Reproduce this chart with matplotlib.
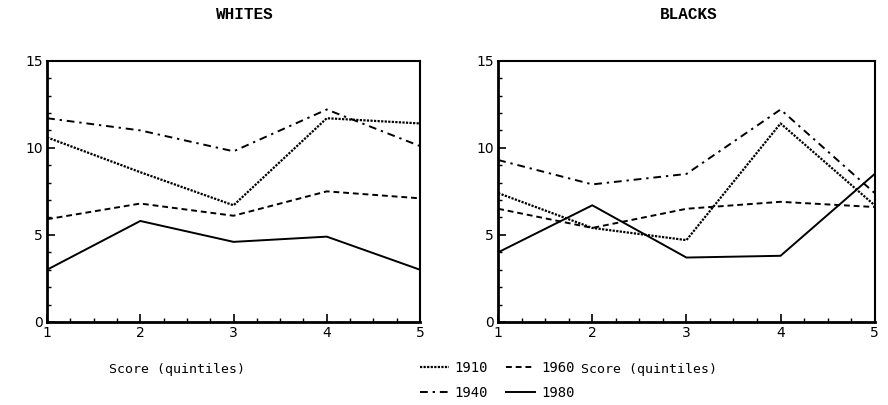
import numpy as np
import matplotlib.pyplot as plt
from matplotlib.ticker import MultipleLocator

quintiles = [1, 2, 3, 4, 5]
years = ["1910", "1940", "1960", "1980"]

whites_1910 = [10.6, 8.6, 6.7, 11.7, 11.4]
whites_1940 = [11.7, 11.0, 9.8, 12.2, 10.1]
whites_1960 = [5.9, 6.8, 6.1, 7.5, 7.1]
whites_1980 = [3.0, 5.8, 4.6, 4.9, 3.0]

blacks_1910 = [7.4, 5.4, 4.7, 11.4, 6.7]
blacks_1940 = [9.3, 7.9, 8.5, 12.2, 7.4]
blacks_1960 = [6.5, 5.4, 6.5, 6.9, 6.6]
blacks_1980 = [4.0, 6.7, 3.7, 3.8, 8.5]

styles = {
    "1910": dict(linestyle=(0, (1, 0.6)), linewidth=1.6),
    "1940": dict(linestyle=(0, (4, 2.5, 1.2, 2.5)), linewidth=1.4),
    "1960": dict(linestyle=(0, (3, 2)), linewidth=1.4),
    "1980": dict(linestyle="-", linewidth=1.4),
}

fig = plt.figure(figsize=(8.88, 4.05), dpi=100)
ax_w = fig.add_axes([0.053, 0.205, 0.420, 0.645])
ax_b = fig.add_axes([0.561, 0.205, 0.424, 0.645])

panels = [
    (ax_w, [whites_1910, whites_1940, whites_1960, whites_1980]),
    (ax_b, [blacks_1910, blacks_1940, blacks_1960, blacks_1980]),
]

handles = []
for ax, series in panels:
    handles = []
    for yr, vals in zip(years, series):
        h, = ax.plot(quintiles, vals, color="black", label=yr, **styles[yr])
        handles.append(h)
    ax.set_xlim(1, 5)
    ax.set_ylim(0, 15)
    ax.set_xticks(quintiles)
    ax.set_yticks([0, 5, 10, 15])
    ax.xaxis.set_minor_locator(MultipleLocator(0.25))
    ax.yaxis.set_minor_locator(MultipleLocator(1))
    ax.tick_params(which="both", direction="in", color="black",
                   labelsize=10, pad=3)
    ax.tick_params(which="major", length=6, width=1.2)
    ax.tick_params(which="minor", length=3, width=1)
    for lab in ax.get_xticklabels() + ax.get_yticklabels():
        lab.set_family("DejaVu Sans")
    for side in ["left", "bottom"]:
        ax.spines[side].set_linewidth(2)
    for side in ["top", "right"]:
        ax.spines[side].set_linewidth(1.5)

fig.text(0.276, 0.965, "WHITES", ha="center", va="center",
         family="Liberation Mono", fontsize=11.5, fontweight="bold")
fig.text(0.776, 0.965, "BLACKS", ha="center", va="center",
         family="Liberation Mono", fontsize=11.5, fontweight="bold")

fig.text(0.199, 0.087, "Score (quintiles)", ha="center", va="center",
         family="DejaVu Sans Mono", fontsize=9.5)
fig.text(0.731, 0.087, "Score (quintiles)", ha="center", va="center",
         family="DejaVu Sans Mono", fontsize=9.5)

leg = fig.legend(handles, years, ncol=2, loc="center",
                 bbox_to_anchor=(0.560, 0.060), frameon=False,
                 handlelength=2.1, columnspacing=1.3,
                 labelspacing=0.8, handletextpad=0.4,
                 prop={"family": "DejaVu Sans Mono", "size": 10})

fig.savefig("out.png", dpi=100)
